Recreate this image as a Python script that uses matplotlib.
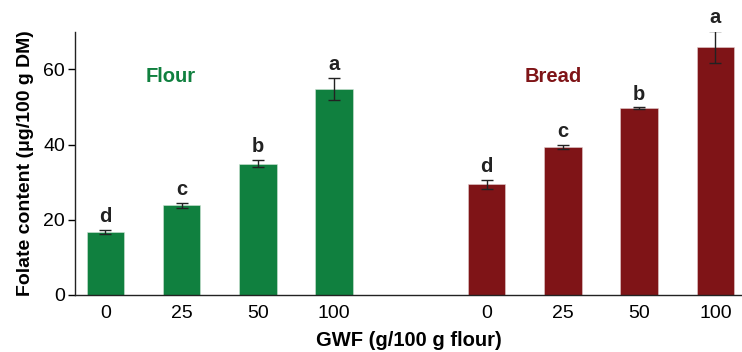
import matplotlib
matplotlib.use("Agg")
import matplotlib.pyplot as plt

plt.rcParams['font.family'] = ['Liberation Sans', 'DejaVu Sans']

gwf_labels = ["0", "25", "50", "100"]
flour_values = [16.8, 23.8, 34.9, 54.8]
flour_errors = [0.5, 0.7, 1.0, 2.9]
flour_letters = ["d", "c", "b", "a"]
bread_values = [29.4, 39.3, 49.7, 66.0]
bread_errors = [1.3, 0.6, 0.2, 4.2]
bread_letters = ["d", "c", "b", "a"]

flour_color = "#10803f"
bread_color = "#7f1417"

fig = plt.figure(figsize=(7.42, 3.52), dpi=100)
ax = fig.add_axes([0.101, 0.162, 0.899, 0.748])

flour_x = [0, 1, 2, 3]
bread_x = [5, 6, 7, 8]
w = 0.49

ax.bar(flour_x, flour_values, width=w, color=flour_color, edgecolor="#cfe3d6", linewidth=0.4,
       yerr=flour_errors, error_kw=dict(ecolor="#222222", elinewidth=1.0, capsize=4, capthick=1.0))
ax.bar(bread_x, bread_values, width=w, color=bread_color, edgecolor="#e3cfcf", linewidth=0.4,
       yerr=bread_errors, error_kw=dict(ecolor="#222222", elinewidth=1.0, capsize=4, capthick=1.0))

for x, v, e, l in zip(flour_x, flour_values, flour_errors, flour_letters):
    ax.text(x, v + e + 1.0, l, ha="center", va="bottom", fontsize=14.5, fontweight="bold", color="#222222")
for x, v, e, l in zip(bread_x, bread_values, bread_errors, bread_letters):
    ax.text(x, v + e + 1.0, l, ha="center", va="bottom", fontsize=14.5, fontweight="bold", color="#222222")

ax.text(0.86, 58, "Flour", ha="center", va="center", fontsize=14.5, fontweight="bold", color=flour_color)
ax.text(5.87, 58, "Bread", ha="center", va="center", fontsize=14.5, fontweight="bold", color=bread_color)

ax.set_xlim(-0.4, 8.35)
ax.set_ylim(0, 70)
ax.set_xticks(flour_x + bread_x)
ax.set_xticklabels(gwf_labels + gwf_labels, fontsize=14)
ax.set_yticks([0, 20, 40, 60])
ax.tick_params(axis="y", labelsize=14, length=5, direction="out", width=1, pad=2)
ax.tick_params(axis="x", length=0, pad=7)
for s in ["top", "right"]:
    ax.spines[s].set_visible(False)
for s in ["left", "bottom"]:
    ax.spines[s].set_color("#222222")
    ax.spines[s].set_linewidth(1.0)

ax.set_ylabel("Folate content (μg/100 g DM)", fontsize=14, fontweight="bold", labelpad=7)
ax.set_xlabel("GWF (g/100 g flour)", fontsize=14.5, fontweight="bold", labelpad=7)

fig.savefig("out.png", dpi=100)
